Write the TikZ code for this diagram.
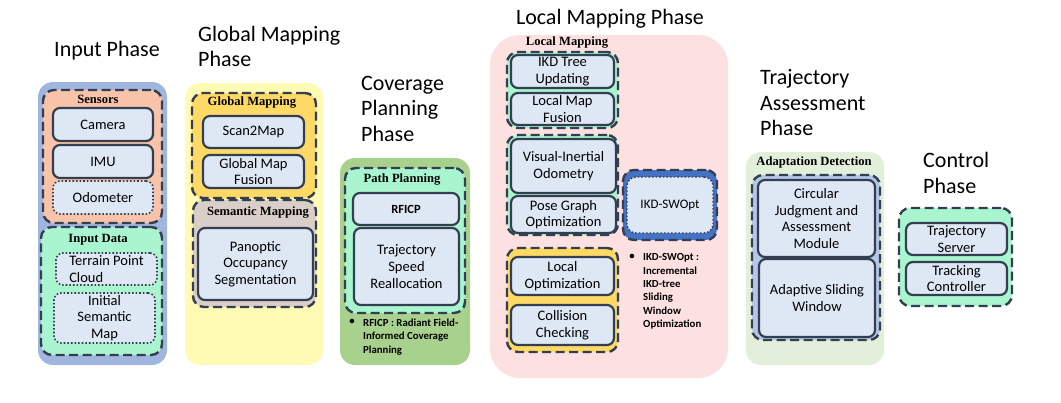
\documentclass[tikz,border=0pt]{standalone}
\usepackage{fontspec}
\setmainfont{Carlito}
\newfontfamily\labelfont{Liberation Serif}
\usetikzlibrary{positioning}

\definecolor{edge}{RGB}{51,63,80}
\definecolor{itemfill}{RGB}{222,232,245}
\definecolor{inputbg}{RGB}{161,182,222}
\definecolor{sensorfill}{RGB}{248,195,168}
\definecolor{mint}{RGB}{168,245,208}
\definecolor{globalbg}{RGB}{255,251,181}
\definecolor{gold}{RGB}{255,217,102}
\definecolor{semfill}{RGB}{218,207,200}
\definecolor{coverbg}{RGB}{169,209,142}
\definecolor{localbg}{RGB}{253,224,224}
\definecolor{ikdblue}{RGB}{68,114,196}
\definecolor{assessbg}{RGB}{226,239,218}
\definecolor{adetfill}{RGB}{180,199,231}

\begin{document}
\begin{tikzpicture}[x=1pt,y=-1pt,
    phasebg/.style={rounded corners=15pt,inner sep=0pt},
    group/.style={draw=edge,line width=2.4pt,dash pattern=on 9pt off 4.5pt,rounded corners=11pt,inner sep=0pt},
    item/.style={draw=edge,line width=2.2pt,fill=itemfill,rounded corners=7pt,inner sep=0pt,align=center,
        font=\fontsize{14.5}{16.7}\selectfont},
    dotitem/.style={item,line width=1.6pt,dotted},
    grouplabel/.style={font=\labelfont\bfseries\fontsize{12.6}{14}\selectfont},
    title/.style={align=left,inner sep=0pt,font=\fontsize{22}{25.5}\selectfont},
    note/.style={align=left,inner sep=0pt,font=\bfseries\fontsize{10.8}{13.4}\selectfont}]
    \useasboundingbox (0,0) rectangle (1061,402);

    % Input Phase
    \node[title] (intitle) at (107,51) {Input Phase};
    \node[phasebg,fill=inputbg,minimum width=129pt,minimum height=283pt] (inbg) at (102.5,223.5) {};
    \node[group,fill=sensorfill,minimum width=119pt,minimum height=133pt] (sensors) at (102.5,156.5) {};
    \node[grouplabel] (sensorslbl) at (98,99) {Sensors};
    \node[item,minimum width=100pt,minimum height=33pt] (camera) at (103,124.5) {Camera};
    \node[item,minimum width=100pt,minimum height=33pt] (imu) at (103,161.5) {IMU};
    \node[dotitem,minimum width=100pt,minimum height=33pt] (odom) at (103,197.5) {Odometer};
    \node[group,fill=mint,minimum width=121pt,minimum height=128pt] (indata) at (101.5,291) {};
    \node[grouplabel] (indatalbl) at (98,240) {Input Data};
    \node[dotitem,align=left,minimum width=101pt,minimum height=32pt] (terrain) at (106.5,269) {Terrain Point\\Cloud};
    \node[dotitem,minimum width=101pt,minimum height=50pt] (initmap) at (104.5,318) {Initial\\Semantic\\Map};

    % Global Mapping Phase
    \node[title,anchor=west] (gtitle) at (198,46.5) {Global Mapping\\Phase};
    \node[phasebg,fill=globalbg,minimum width=138pt,minimum height=282pt] (gbg) at (254,224) {};
    \node[group,fill=gold,minimum width=124pt,minimum height=105pt] (gmap) at (254,145.5) {};
    \node[grouplabel] (gmaplbl) at (252,103) {Global Mapping};
    \node[item,minimum width=101pt,minimum height=32pt] (scan) at (253.5,132) {Scan2Map};
    \node[item,minimum width=101pt,minimum height=33pt] (gfusion) at (253.5,171.5) {Global Map\\Fusion};
    \node[group,fill=semfill,minimum width=123pt,minimum height=107pt] (semmap) at (254.5,253.5) {};
    \node[grouplabel] (semmaplbl) at (258,213) {Semantic Mapping};
    \node[item,minimum width=115pt,minimum height=72pt] (panoptic) at (255.5,264) {Panoptic\\Occupancy\\Segmentation};

    % Coverage Planning Phase
    \node[title,anchor=west] (ctitle) at (361,108.5) {Coverage\\Planning\\Phase};
    \node[phasebg,fill=coverbg,minimum width=130pt,minimum height=207pt] (cbg) at (405,261.5) {};
    \node[group,fill=mint,minimum width=120pt,minimum height=145pt] (pathplan) at (405,240.5) {};
    \node[grouplabel] (pathplanlbl) at (402,180) {Path Planning};
    \node[item,minimum width=106pt,minimum height=32pt,font=\bfseries\fontsize{12.5}{15}\selectfont] (rficp) at (406,209) {RFICP};
    \node[item,minimum width=105pt,minimum height=77pt] (tsr) at (406.5,266.5) {Trajectory\\Speed\\Reallocation};
    \node[note,anchor=north west] (rficpnote) at (363,318.5) {RFICP : Radiant Field-\\Informed Coverage\\Planning};
    \node[note,anchor=north east] (rficpdot) at ([xshift=-8pt]rficpnote.north west) {\textbullet};

    % Local Mapping Phase
    \node[title] (ltitle) at (610,19) {Local Mapping Phase};
    \node[phasebg,rounded corners=30pt,fill=localbg,minimum width=238pt,minimum height=343pt] (lbg) at (609,206.5) {};
    \node[grouplabel] (lmaplbl) at (567,43) {Local Mapping};
    \node[group,fill=mint,minimum width=111pt,minimum height=76pt] (lg1) at (562.5,90) {};
    \node[item,minimum width=103pt,minimum height=33pt] (ikdtree) at (562.5,71.5) {IKD Tree\\Updating};
    \node[item,minimum width=103pt,minimum height=32pt] (lfusion) at (562.5,109) {Local Map\\Fusion};
    \node[group,fill=mint,minimum width=111pt,minimum height=100pt] (lg2) at (562.5,185) {};
    \node[item,minimum width=105pt,minimum height=54pt] (vio) at (563.5,166) {Visual-Inertial\\Odometry};
    \node[item,minimum width=105pt,minimum height=37pt] (pgo) at (563.5,214.5) {Pose Graph\\Optimization};
    \node[group,fill=gold,minimum width=111pt,minimum height=104pt] (lg3) at (562.5,300) {};
    \node[item,minimum width=103pt,minimum height=38pt] (lopt) at (562.5,276) {Local\\Optimization};
    \node[item,minimum width=103pt,minimum height=40pt] (collide) at (562.5,325) {Collision\\Checking};
    \node[group,fill=ikdblue,minimum width=94pt,minimum height=70pt] (ikdsw) at (670,205) {};
    \node[dotitem,line width=1.4pt,rounded corners=9pt,minimum width=86pt,minimum height=56pt,
        font=\fontsize{13}{15}\selectfont] (ikdswin) at (670,205) {IKD-SWOpt};
    \node[note,anchor=north west] (ikdnote) at (643,253.5) {IKD-SWOpt :\\Incremental\\IKD-tree\\Sliding\\Window\\Optimization};
    \node[note,anchor=north east] (ikddot) at ([xshift=-8pt]ikdnote.north west) {\textbullet};

    % Trajectory Assessment Phase
    \node[title,anchor=west] (atitle) at (760,103) {Trajectory\\Assessment\\Phase};
    \node[phasebg,fill=assessbg,minimum width=138pt,minimum height=213pt] (abg) at (815,258.5) {};
    \node[grouplabel] (adetlbl) at (814,162) {Adaptation Detection};
    \node[group,fill=adetfill,minimum width=128pt,minimum height=165pt] (adet) at (816,257.5) {};
    \node[item,minimum width=117pt,minimum height=77pt] (cjam) at (816.5,218.5) {Circular\\Judgment and\\Assessment\\Module};
    \node[item,minimum width=116pt,minimum height=78pt] (asw) at (817,298) {Adaptive Sliding\\Window};

    % Control Phase
    \node[title,anchor=west] (ctrltitle) at (923,173) {Control\\Phase};
    \node[group,fill=mint,minimum width=113pt,minimum height=98pt] (ctrl) at (955.5,257) {};
    \node[item,minimum width=101pt,minimum height=32pt] (tserver) at (956.5,239) {Trajectory\\Server};
    \node[item,minimum width=101pt,minimum height=33pt] (tcontrol) at (956.5,278.5) {Tracking\\Controller};
\end{tikzpicture}
\end{document}
